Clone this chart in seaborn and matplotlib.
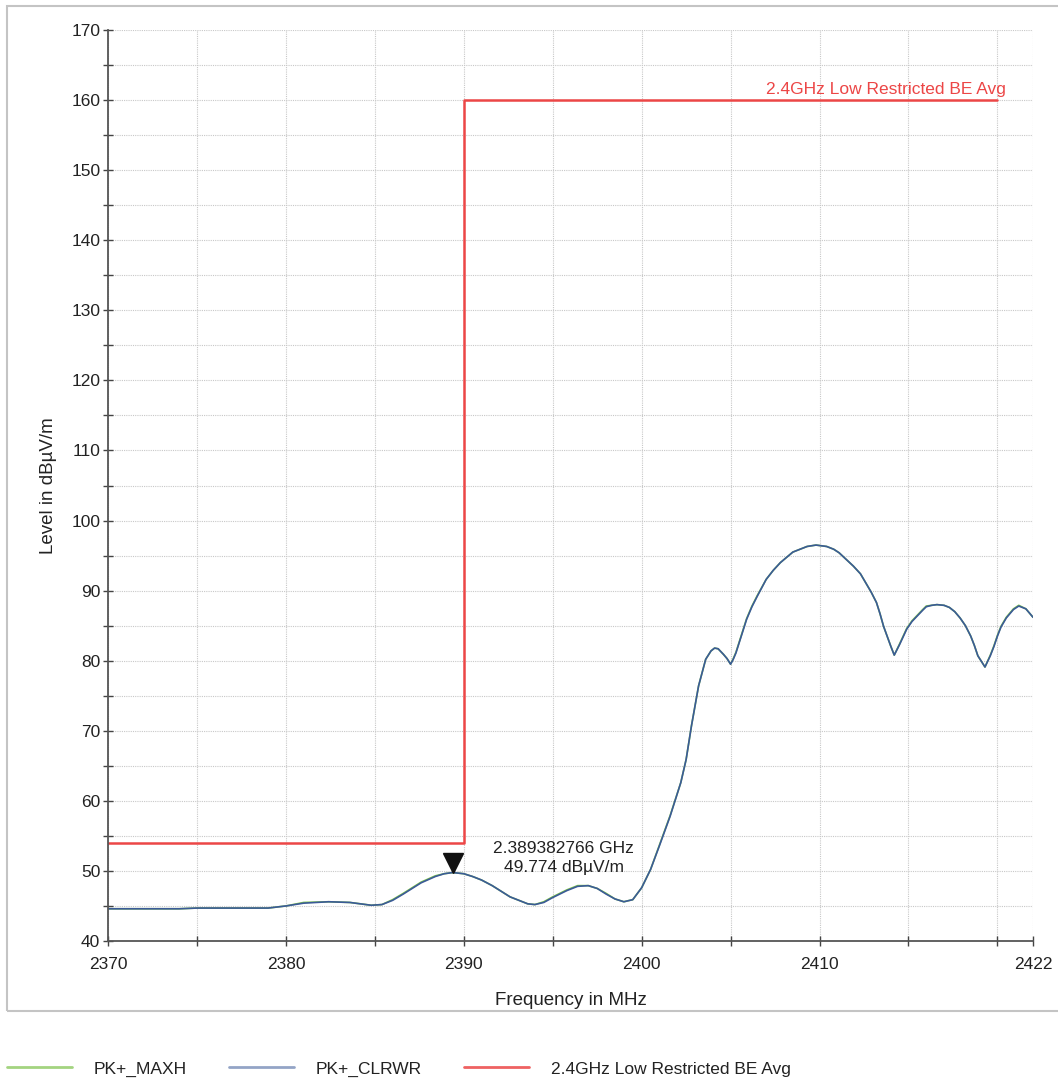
import matplotlib
matplotlib.use("Agg")
import matplotlib.pyplot as plt
import matplotlib.transforms as mtransforms
from matplotlib.lines import Line2D
from matplotlib.patches import Rectangle
from matplotlib.ticker import MultipleLocator, FixedLocator
import seaborn as sns
import pandas as pd

# ---------------- data ----------------
freq_mhz = [2370.0, 2372.0, 2374.0, 2375.0, 2377.0, 2379.0, 2380.0, 2381.0, 2382.4, 2383.6,
            2384.8, 2385.4, 2386.0, 2386.6, 2387.6, 2388.4, 2388.9, 2389.38, 2390.0, 2390.5,
            2391.0, 2391.6, 2392.6, 2393.6, 2394.0, 2394.5, 2395.0, 2395.8, 2396.4, 2397.0,
            2397.5, 2398.0, 2398.5, 2399.0, 2399.5, 2400.0, 2400.5, 2401.0, 2401.6, 2402.2,
            2402.5, 2402.8, 2403.2, 2403.6, 2403.9, 2404.1, 2404.3, 2404.6, 2404.8, 2405.0,
            2405.15, 2405.3, 2405.9, 2406.2, 2406.5, 2407.0, 2407.4, 2407.8, 2408.5, 2408.9,
            2409.3, 2409.8, 2410.4, 2410.8, 2411.1, 2411.9, 2412.3, 2412.6, 2412.9, 2413.2,
            2413.4, 2413.6, 2414.0, 2414.2, 2414.5, 2414.9, 2415.2, 2415.5, 2415.8, 2416.0,
            2416.3, 2416.6, 2417.0, 2417.3, 2417.6, 2417.9, 2418.2, 2418.5, 2418.7, 2418.9,
            2419.3, 2419.6, 2419.8, 2420.0, 2420.2, 2420.5, 2420.9, 2421.2, 2421.6, 2422.0]
level_clrwr = [44.6, 44.6, 44.6, 44.7, 44.7, 44.7, 45.0, 45.4, 45.6, 45.5,
               45.1, 45.2, 45.8, 46.7, 48.3, 49.2, 49.6, 49.77, 49.6, 49.2,
               48.7, 47.9, 46.3, 45.3, 45.2, 45.5, 46.2, 47.2, 47.8, 47.9,
               47.5, 46.7, 46.0, 45.6, 45.9, 47.6, 50.2, 53.6, 57.8, 62.6,
               65.9, 70.7, 76.4, 80.2, 81.4, 81.8, 81.7, 80.9, 80.3, 79.5,
               80.2, 81.1, 85.9, 87.7, 89.2, 91.6, 92.9, 94.0, 95.5, 95.9,
               96.3, 96.5, 96.3, 95.9, 95.4, 93.5, 92.4, 91.1, 89.8, 88.3,
               86.7, 84.9, 82.1, 80.8, 82.3, 84.5, 85.6, 86.4, 87.2, 87.7,
               87.9, 88.0, 87.9, 87.6, 87.0, 86.1, 85.0, 83.5, 82.2, 80.7,
               79.1, 80.7, 82.0, 83.5, 84.8, 86.1, 87.3, 87.8, 87.4, 86.2]
level_maxh = [44.6, 44.6, 44.6, 44.7, 44.7, 44.7, 45.0, 45.5, 45.6, 45.5,
              45.1, 45.2, 45.9, 46.8, 48.4, 49.3, 49.6, 49.77, 49.6, 49.2,
              48.7, 47.9, 46.3, 45.3, 45.2, 45.6, 46.3, 47.3, 47.9, 47.9,
              47.5, 46.8, 46.0, 45.6, 45.9, 47.6, 50.2, 53.7, 57.9, 62.6,
              65.9, 70.7, 76.4, 80.2, 81.4, 81.8, 81.7, 80.9, 80.3, 79.5,
              80.3, 81.2, 86.0, 87.8, 89.3, 91.6, 92.9, 94.0, 95.5, 95.9,
              96.3, 96.5, 96.3, 95.9, 95.4, 93.5, 92.4, 91.1, 89.8, 88.3,
              86.7, 84.9, 82.1, 80.8, 82.4, 84.6, 85.7, 86.5, 87.3, 87.8,
              87.9, 88.0, 87.9, 87.6, 87.0, 86.1, 85.0, 83.5, 82.2, 80.7,
              79.1, 80.8, 82.1, 83.6, 84.9, 86.2, 87.4, 87.9, 87.4, 86.2]

limit_freq = [2370.0, 2390.0, 2390.0, 2420.0]
limit_level = [54.0, 54.0, 160.0, 160.0]

marker_freq = [2389.382766]
marker_level = [49.774]
marker_text = "2.389382766 GHz\n49.774 dBµV/m"

x_major_ticks = [2370, 2380, 2390, 2400, 2410, 2422]
legend_labels = ["PK+_MAXH", "PK+_CLRWR", "2.4GHz Low Restricted BE Avg"]

# ---------------- style ----------------
sns.set_theme(style="white")
plt.rcParams["font.family"] = ["Liberation Sans", "DejaVu Sans"]

GREEN = "#7cc24a"
BLUE = "#3b5a98"
RED = "#ec4646"
TXT = "#222222"
FS = 12.5

fig = plt.figure(figsize=(10.58, 10.83), dpi=100)
ax = fig.add_axes([108/1058, (1083-941)/1083, (1033-108)/1058, (941-30)/1083])

df = pd.concat([
    pd.DataFrame({"f": freq_mhz, "v": level_maxh, "s": legend_labels[0]}),
    pd.DataFrame({"f": freq_mhz, "v": level_clrwr, "s": legend_labels[1]}),
])
sns.lineplot(data=df, x="f", y="v", hue="s", palette={legend_labels[0]: GREEN, legend_labels[1]: BLUE},
             estimator=None, sort=False, linewidth=1.2, legend=False, ax=ax)
sns.lineplot(x=limit_freq, y=limit_level, color=RED, linewidth=1.8, estimator=None, sort=False, ax=ax)

ax.set_xlim(2370, 2422)
ax.set_ylim(40, 170)

ax.xaxis.set_major_locator(FixedLocator(x_major_ticks))
ax.xaxis.set_minor_locator(MultipleLocator(5))
ax.yaxis.set_major_locator(MultipleLocator(10))
ax.yaxis.set_minor_locator(MultipleLocator(5))

ax.grid(True, which="both", color="#c8c8c8", linestyle=(0, (1, 1)), linewidth=0.8)
ax.set_axisbelow(True)
for s in ["top", "right"]:
    ax.spines[s].set_visible(False)
for s in ["left", "bottom"]:
    ax.spines[s].set_color("#555555")
    ax.spines[s].set_linewidth(1.3)

ax.tick_params(which="both", direction="inout", length=7, width=1, color="#444444",
               labelsize=FS, labelcolor=TXT, bottom=True, left=True)
ax.tick_params(axis="x", which="major", pad=8)
ax.tick_params(axis="y", which="major", pad=2)

ax.set_xlabel("Frequency in MHz", fontsize=13.5, color=TXT)
ax.set_ylabel("Level in dBµV/m", fontsize=13.5, color=TXT)
ax.xaxis.set_label_coords(0.5, -0.056)
ax.yaxis.set_label_coords(-0.055, 0.5)

# limit line label
ax.annotate("2.4GHz Low Restricted BE Avg", xy=(limit_freq[-1], limit_level[-1]),
            xytext=(6, 2), textcoords="offset points", ha="right", va="bottom",
            color=RED, fontsize=FS)

# marker
tr = mtransforms.offset_copy(ax.transData, fig=fig, x=0, y=7, units="points")
ax.plot(marker_freq, marker_level, marker="v", markersize=14, color="#111111",
        linestyle="none", transform=tr)
ax.annotate(marker_text, xy=(marker_freq[0], marker_level[0]), xytext=(80, 10.5),
            textcoords="offset points", ha="center", va="center", multialignment="center",
            fontsize=FS, color=TXT, linespacing=1.4)

# outer border
fig.patches.append(Rectangle((7/1058, (1083-1011)/1083), 1.0, (1011-6)/1083,
                             transform=fig.transFigure, fill=False,
                             edgecolor="#c4c4c4", linewidth=1.5))

# legend
handles = [Line2D([], [], color=GREEN, lw=2, alpha=0.7),
           Line2D([], [], color=BLUE, lw=2, alpha=0.55),
           Line2D([], [], color=RED, lw=2, alpha=0.85)]
fig.legend(handles, legend_labels, loc="center left",
           bbox_to_anchor=(7/1058, (1083-1069)/1083),
           ncol=3, frameon=False, fontsize=FS, handlelength=3.74, handletextpad=1.27,
           columnspacing=2.42, labelcolor=TXT, borderaxespad=0, borderpad=0)

fig.savefig("out.png", dpi=100)
